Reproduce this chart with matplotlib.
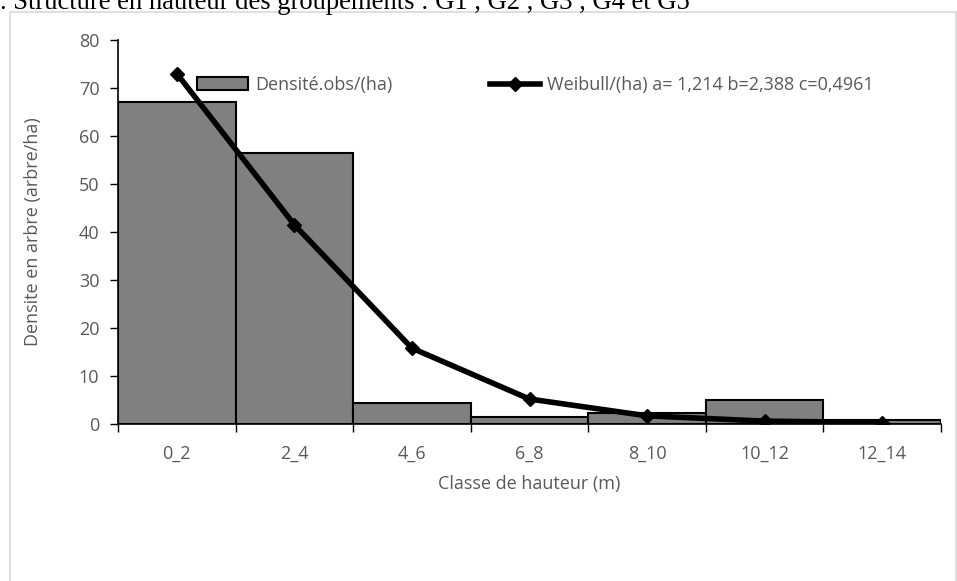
import matplotlib
matplotlib.use('Agg')
import matplotlib.pyplot as plt
from matplotlib.patches import Rectangle
import numpy as np

# data
classes = ['0_2', '2_4', '4_6', '6_8', '8_10', '10_12', '12_14']
observed = [67.1, 56.4, 4.4, 1.5, 2.2, 5.1, 0.8]
weibull = [73.0, 41.5, 15.8, 5.2, 1.7, 0.6, 0.3]
yticks = [0, 10, 20, 30, 40, 50, 60, 70, 80]

caption = '. Structure en hauteur des groupements : G1 , G2 , G3 , G4 et G5'
bar_label = 'Densité.obs/(ha)'
line_label = 'Weibull/(ha) a= 1,214 b=2,388 c=0,4961'

plt.rcParams['font.family'] = ['Open Sans', 'DejaVu Sans']
txt_col = '#595959'
fs = 13

W, H = 957, 581
fig = plt.figure(figsize=(W / 100, H / 100), dpi=100)

# light frame of the embedded chart
fig.patches.append(Rectangle((10 / W, -0.1), (W - 11) / W, 1.1 - 12 / H,
                             transform=fig.transFigure, fill=False,
                             edgecolor='#d9d9d9', linewidth=1.2))
# document caption, cut off at the top
fig.text(0 / W, 1 - 9 / H, caption, family='Liberation Serif', fontsize=19.2,
         color='black', va='baseline', ha='left')

ax = fig.add_axes([118 / W, 1 - 424 / H, (941 - 118) / W, (424 - 40) / H])
x = np.arange(len(classes))
bars = ax.bar(x, observed, width=1.0, color='#808080', edgecolor='black',
              linewidth=1.5, label=bar_label, zorder=2)
line, = ax.plot(x, weibull, color='black', linewidth=4, marker='D',
                markersize=7.5, label=line_label, zorder=3)

ax.set_xlim(-0.5, len(classes) - 0.5)
ax.set_ylim(0, 80)
ax.set_yticks(yticks)
ax.set_xticks(x)
ax.set_xticklabels(classes)
ax.set_xticks(np.arange(len(classes) + 1) - 0.5, minor=True)
ax.tick_params(axis='x', which='major', length=0, pad=15, labelsize=fs,
               labelcolor=txt_col)
ax.tick_params(axis='x', which='minor', length=6, width=1, color='black')
ax.tick_params(axis='y', length=5.5, width=1, labelsize=fs,
               labelcolor=txt_col, pad=8)
for s in ['top', 'right']:
    ax.spines[s].set_visible(False)
for s in ['left', 'bottom']:
    ax.spines[s].set_linewidth(1.2)
    ax.spines[s].set_color('black')

ax.set_xlabel('Classe de hauteur (m)', fontsize=fs, color=txt_col, va='center')
ax.xaxis.set_label_coords(0.5, (424 - 484) / 384)
ax.set_ylabel('Densite en arbre (arbre/ha)', fontsize=fs, color=txt_col,
              va='center')
ax.yaxis.set_label_coords((33 - 118) / 823, 0.5)

# bar entry first, like the reference
leg = ax.legend([bars, line], [bar_label, line_label],
                loc='center left', bbox_to_anchor=((197 - 118) / 823, (424 - 85) / 384),
                ncol=2, frameon=False, fontsize=fs, handlelength=2.8,
                columnspacing=5.4, handletextpad=0.4, borderpad=0,
                borderaxespad=0)
for t in leg.get_texts():
    t.set_color(txt_col)

fig.savefig('out.png', dpi=100)
